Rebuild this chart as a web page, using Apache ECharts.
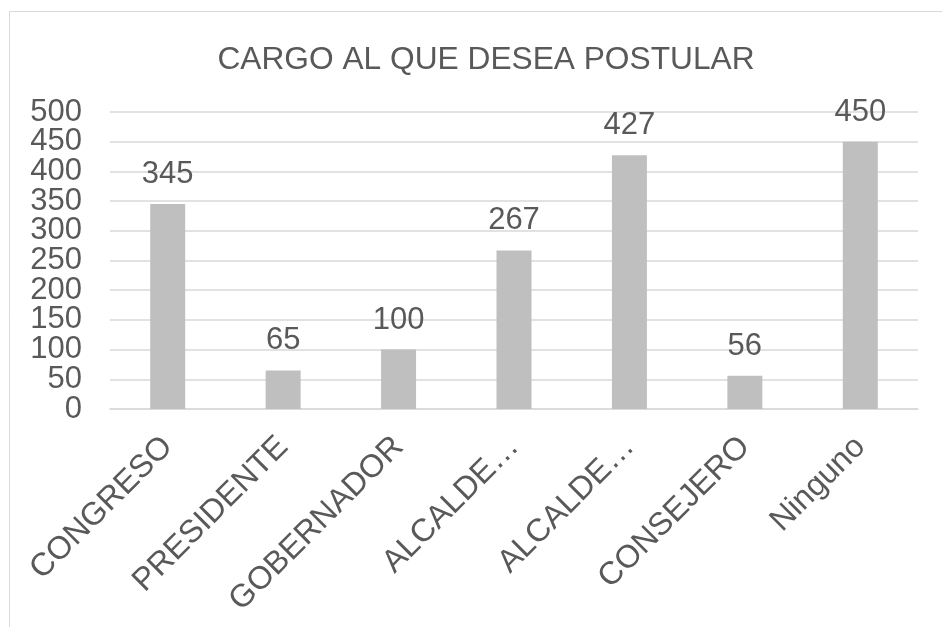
<!DOCTYPE html>
<html>
<head>
<meta charset="utf-8">
<script src="https://cdn.jsdelivr.net/npm/echarts@6/dist/echarts.min.js"></script>
<style>
html,body{margin:0;padding:0;background:#fff;}
#chart{width:942px;height:627px;}
</style>
</head>
<body>
<div id="chart"></div>
<script>
const titleText = 'CARGO AL QUE DESEA POSTULAR';
const categories = ['CONGRESO', 'PRESIDENTE', 'GOBERNADOR', 'ALCALDE…', 'ALCALDE…', 'CONSEJERO', 'Ninguno'];
const values = [345, 65, 100, 267, 427, 56, 450];
const yMin = 0, yMax = 500, yStep = 50;

const FONT = '"Liberation Sans", Arial, sans-serif';
const TXT = '#595959';
const yLabel = {margin: 28, fontFamily: FONT, fontSize: 31, color: TXT};
const chart = echarts.init(document.getElementById('chart'), null, {renderer: 'canvas'});
chart.setOption({
  animation: false,
  backgroundColor: '#ffffff',
  graphic: [{
    type: 'rect', silent: true,
    shape: {x: 9.5, y: 11.5, width: 1000, height: 1000},
    style: {fill: 'none', stroke: '#d9d9d9', lineWidth: 1}
  }],
  title: {
    text: titleText, left: 481, textAlign: 'center', top: 39,
    textStyle: {fontFamily: FONT, fontSize: 31.7, fontWeight: 'normal', color: TXT}
  },
  grid: {left: 110, right: 24, top: 112, bottom: 218, containLabel: false},
  xAxis: {
    type: 'category', data: categories,
    axisLine: {show: true, lineStyle: {color: '#d9d9d9', width: 1.5}},
    axisTick: {show: false},
    axisLabel: {rotate: 45, margin: 33, interval: 0, hideOverlap: false, fontFamily: FONT, fontSize: 32, color: TXT}
  },
  yAxis: [{
    type: 'value', min: yMin, max: yMax, interval: yStep,
    axisLine: {show: false}, axisTick: {show: false},
    splitLine: {lineStyle: {color: '#d9d9d9', width: 1.5}},
    axisLabel: Object.assign({}, yLabel, {
      showMinLabel: false, showMaxLabel: false,
      formatter: v => (v % (yStep * 2) !== 0 ? String(v) : '')
    })
  }, {
    type: 'value', min: yMin, max: yMax, interval: yStep * 2, position: 'left', offset: 0,
    axisLine: {show: false}, axisTick: {show: false}, splitLine: {show: false},
    axisLabel: Object.assign({}, yLabel, {showMinLabel: true, showMaxLabel: true})
  }],
  series: [{
    type: 'bar', data: values, barWidth: 35, yAxisIndex: 0,
    itemStyle: {color: '#bfbfbf'},
    label: {show: true, position: 'top', distance: 14, fontFamily: FONT, fontSize: 31, color: TXT}
  }]
});
</script>
</body>
</html>
